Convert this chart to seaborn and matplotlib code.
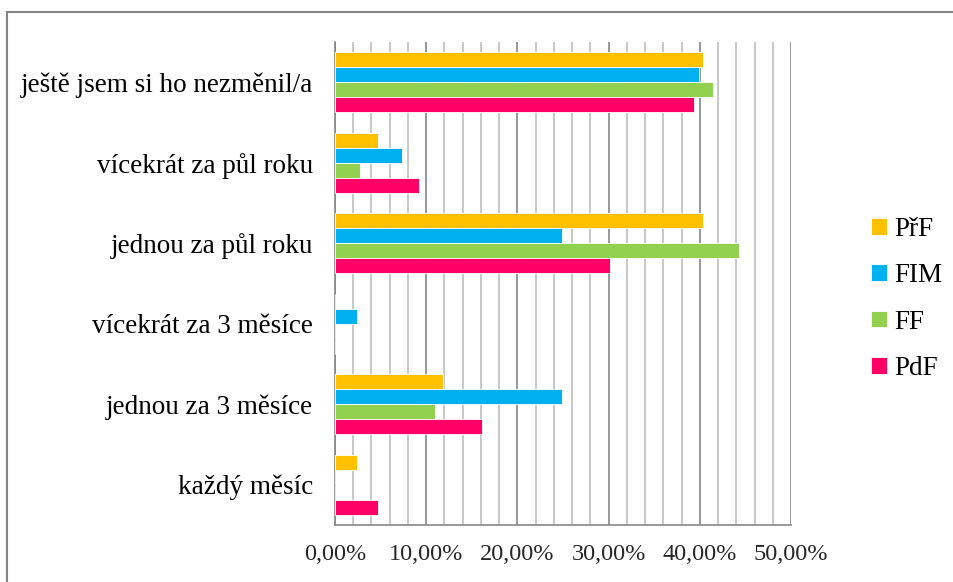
import matplotlib
matplotlib.use("Agg")
import matplotlib.pyplot as plt
import seaborn as sns
import pandas as pd
from matplotlib.ticker import MultipleLocator, FuncFormatter
from matplotlib.patches import Rectangle

categories = ["ještě jsem si ho nezměnil/a", "vícekrát za půl roku", "jednou za půl roku",
              "vícekrát za 3 měsíce", "jednou za 3 měsíce", "každý měsíc"]
series = ["PřF", "FIM", "FF", "PdF"]
prf = [40.3, 4.7, 40.3, 0.0, 11.8, 2.4]
fim = [39.9, 7.4, 24.9, 2.4, 24.9, 0.0]
ff = [41.5, 2.7, 44.3, 0.0, 11.0, 0.0]
pdf = [39.4, 9.2, 30.1, 0.0, 16.1, 4.7]
colors = ["#FFC000", "#00B0F0", "#92D050", "#FF0066"]

rows = []
for s, vals in zip(series, [prf, fim, ff, pdf]):
    for c, v in zip(categories, vals):
        rows.append({"cat": c, "series": s, "val": v})
df = pd.DataFrame(rows)

sns.set_style("white")
plt.rcParams["font.family"] = ["Liberation Serif", "DejaVu Serif"]

W, H = 954, 582
fig = plt.figure(figsize=(W / 100, H / 100), dpi=100)
ax = fig.add_axes([335 / W, 1 - 525 / H, (791 - 335) / W, (525 - 42) / H])

fig.patches.append(Rectangle((7 / W, -0.1), 1.2, 1 - 12 / H + 0.1, transform=fig.transFigure,
                             fill=False, edgecolor="#868686", linewidth=1.5, zorder=0))

sns.barplot(data=df, y="cat", x="val", hue="series", order=categories, hue_order=series,
            palette=colors, orient="h", width=0.75, edgecolor="white", linewidth=0.6,
            saturation=1, ax=ax, zorder=3)

ax.set_xlim(0, 50)
ax.set_ylim(5.5, -0.5)
ax.xaxis.set_major_locator(MultipleLocator(10))
ax.xaxis.set_minor_locator(MultipleLocator(2))
ax.xaxis.set_major_formatter(FuncFormatter(lambda v, p: f"{v:.2f}".replace(".", ",") + "%"))
ax.grid(axis="x", which="major", color="#868686", linewidth=1.2, zorder=0)
ax.grid(axis="x", which="minor", color="#BFBFBF", linewidth=1.2, zorder=0)
ax.set_axisbelow(True)
ax.set_yticks(range(len(categories)))
ax.set_yticklabels(categories)
ax.set_yticks([i - 0.5 for i in range(len(categories) + 1)], minor=True)
ax.tick_params(axis="y", which="major", length=0, pad=16, labelsize=19.5, colors="black")
ax.tick_params(axis="y", which="minor", length=7, width=1.2, color="#868686", direction="out")
ax.tick_params(axis="x", which="major", length=7, width=1.2, color="#868686", direction="out",
               labelsize=17.5, pad=7)
ax.tick_params(axis="x", which="minor", length=0)
ax.set_xlabel("")
ax.set_ylabel("")
for s in ["top", "right"]:
    ax.spines[s].set_visible(False)
for s in ["left", "bottom"]:
    ax.spines[s].set_color("#868686")
    ax.spines[s].set_linewidth(1.2)

ax.legend(loc="center left", bbox_to_anchor=(871 / W, 1 - 299 / H), bbox_transform=fig.transFigure,
          frameon=False, fontsize=19.5, handlelength=0.58, handleheight=0.58,
          handletextpad=0.28, labelspacing=0.78, borderaxespad=0, borderpad=0)
for t in ax.get_legend().get_texts():
    t.set_color("black")

fig.savefig("out.png", dpi=100)
